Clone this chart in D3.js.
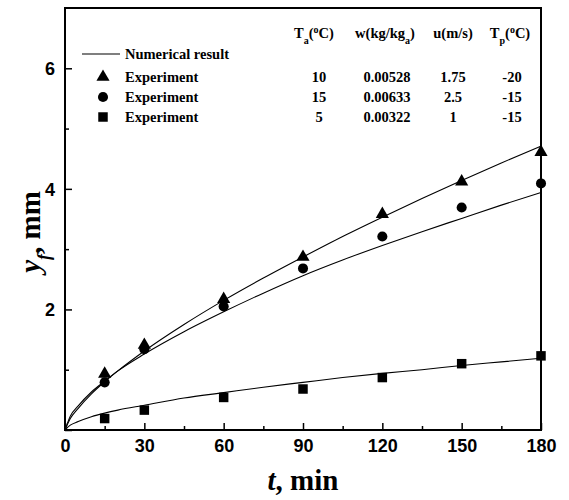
<!DOCTYPE html>
<html><head><meta charset="utf-8">
<script src="https://cdn.jsdelivr.net/npm/d3@7"></script>
<style>body{margin:0;background:#fff}</style></head>
<body><svg id="c" width="569" height="500"></svg>
<script>
// ---- data ----
const tLine = [0,2,5,10,15,20,30,45,60,75,90,105,120,135,150,165,180];
const numTriangle = [0,0.19,0.36,0.60,0.80,0.98,1.31,1.75,2.15,2.52,2.87,3.21,3.53,3.84,4.14,4.43,4.71];
const numCircle   = [0,0.23,0.40,0.63,0.81,0.98,1.26,1.63,1.96,2.27,2.56,2.82,3.06,3.29,3.51,3.73,3.94];
const numSquare   = [0,0.08,0.14,0.22,0.28,0.33,0.41,0.53,0.62,0.71,0.79,0.87,0.94,1.00,1.07,1.13,1.19];
const tExp = [15,30,60,90,120,150,180];
const expTriangle = [0.93,1.41,2.17,2.87,3.58,4.12,4.61];
const expCircle   = [0.79,1.34,2.05,2.68,3.21,3.69,4.09];
const expSquare   = [0.19,0.33,0.54,0.68,0.87,1.10,1.23];
const xTicks = [0,30,60,90,120,150,180];
const xMinor = [15,45,75,105,135,165];
const yTicks = [0,2,4,6];
const yMinor = [1,3,5];
const colTa = ["10","15","5"];
const colW  = ["0.00528","0.00633","0.00322"];
const colU  = ["1.75","2.5","1"];
const colTp = ["-20","-15","-15"];

const svg = d3.select("#c");
const x = d3.scaleLinear([0,180],[65,541]);
const y = d3.scaleLinear([0,7],[430,8]);
const serif = "'Liberation Serif','Times New Roman',serif";
const sans = "'Liberation Sans',Arial,sans-serif";

// axes
const gx = svg.append("g").attr("transform","translate(0,430)")
  .call(d3.axisBottom(x).tickValues(xTicks).tickSizeInner(-7).tickSizeOuter(0).tickPadding(9).tickFormat(d3.format("d")));
const gxm = svg.append("g").attr("transform","translate(0,430)")
  .call(d3.axisBottom(x).tickValues(xMinor).tickSizeInner(-4).tickSizeOuter(0).tickFormat(""));
const gy = svg.append("g").attr("transform","translate(65,0)")
  .call(d3.axisLeft(y).tickValues(yTicks).tickSizeInner(-7).tickSizeOuter(0).tickPadding(10).tickFormat(d => d===0 ? "" : d));
const gym = svg.append("g").attr("transform","translate(65,0)")
  .call(d3.axisLeft(y).tickValues(yMinor).tickSizeInner(-4).tickSizeOuter(0).tickFormat(""));
[gx,gxm,gy,gym].forEach(g => {
  g.select(".domain").remove();
  g.selectAll(".tick line").attr("stroke","#000").attr("stroke-width",1.5);
  g.selectAll("text").attr("font-family",sans).attr("font-weight","bold").attr("font-size",18).attr("fill","#000");
});
gy.selectAll("text").attr("dy","0.36em");

// frame
svg.append("rect").attr("x",x(0)).attr("y",y(7)).attr("width",x(180)-x(0)).attr("height",y(0)-y(7))
  .attr("fill","none").attr("stroke","#000").attr("stroke-width",2);

// lines
const line = d3.line().x((d,i)=>x(tLine[i])).y(d=>y(d)).curve(d3.curveMonotoneX);
[numTriangle,numCircle,numSquare].forEach(s => {
  svg.append("path").attr("d",line(s)).attr("fill","none").attr("stroke","#000").attr("stroke-width",1.1);
});

// markers
const tri = d3.symbol().type(d3.symbolTriangle).size(75);
const cir = d3.symbol().type(d3.symbolCircle).size(80);
const sqr = d3.symbol().type(d3.symbolSquare).size(90);
function markers(vals, sym){
  svg.append("g").selectAll("path").data(vals).join("path")
    .attr("d",sym()).attr("transform",(d,i)=>`translate(${x(tExp[i])},${y(d)})`).attr("fill","#000");
}
markers(expSquare,sqr); markers(expCircle,cir); markers(expTriangle,tri);

// legend
const lg = svg.append("g").attr("font-family",serif).attr("font-weight","bold").attr("font-size",14.5).attr("fill","#000");
lg.append("line").attr("x1",82).attr("x2",120).attr("y1",54).attr("y2",54).attr("stroke","#000").attr("stroke-width",1.1);
lg.append("text").attr("x",125).attr("y",59).text("Numerical result");
const rowsY = [77,97,117];
const syms = [tri,cir,sqr];
rowsY.forEach((ry,i)=>{
  lg.append("path").attr("d",syms[i]()).attr("transform",`translate(103,${ry})`);
  lg.append("text").attr("x",125).attr("y",ry+5).text("Experiment");
  lg.append("text").attr("x",319).attr("y",ry+5).attr("text-anchor","middle").text(colTa[i]);
  lg.append("text").attr("x",387).attr("y",ry+5).attr("text-anchor","middle").text(colW[i]);
  lg.append("text").attr("x",453).attr("y",ry+5).attr("text-anchor","middle").text(colU[i]);
  lg.append("text").attr("x",512).attr("y",ry+5).attr("text-anchor","middle").text(colTp[i]);
});
// header
function header(cx, parts){
  const t = lg.append("text").attr("x",cx).attr("y",38).attr("text-anchor","middle");
  parts.forEach(p=>{
    const s = t.append("tspan").text(p[0]);
    if(p[1]) s.attr("baseline-shift",p[1]).attr("font-size",10);
  });
}
header(314,[["T"],["a","sub"],["("],["o","super"],["C)"]]);
header(385,[["w(kg/kg"],["a","sub"],[")"]]);
header(453,[["u(m/s)"]]);
header(510,[["T"],["p","sub"],["("],["o","super"],["C)"]]);

// axis titles
const xt = svg.append("text").attr("x",303).attr("y",490).attr("text-anchor","middle")
  .attr("font-family",serif).attr("font-weight","bold").attr("font-size",29);
xt.append("tspan").attr("font-style","italic").text("t");
xt.append("tspan").text(", min");
const yt = svg.append("text").attr("transform","translate(40,232) rotate(-90)").attr("text-anchor","middle")
  .attr("font-family",serif).attr("font-weight","bold").attr("font-size",29);
yt.append("tspan").attr("font-style","italic").text("y");
yt.append("tspan").attr("font-style","italic").attr("font-size",18).attr("baseline-shift","sub").text("f");
yt.append("tspan").text(", mm");
</script></body></html>
